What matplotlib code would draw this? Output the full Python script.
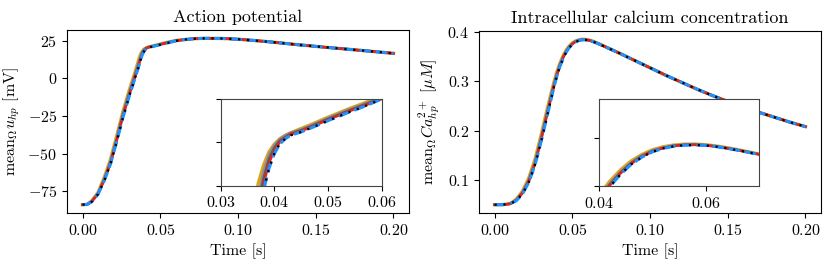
import numpy as np
from matplotlib import pyplot as plt

plt.rcParams['font.family'] = 'serif'
plt.rcParams['font.serif'] = ['cmr10', 'DejaVu Serif']
plt.rcParams['mathtext.fontset'] = 'cm'
plt.rcParams['axes.formatter.use_mathtext'] = True
plt.rcParams['font.size'] = 11.5

# --- action potential (mean over Omega) ---
t_ap_rise = [0.0, 0.003, 0.006, 0.010, 0.014, 0.018, 0.022, 0.026, 0.030, 0.034, 0.036, 0.037,
             0.038, 0.039, 0.040, 0.041, 0.042, 0.043, 0.045, 0.047, 0.050, 0.054, 0.057, 0.060]
t_ap_tail = [0.065, 0.070, 0.075, 0.080, 0.090, 0.100, 0.110, 0.120, 0.140, 0.160, 0.180, 0.200]
ap_tail = [25.8, 26.3, 26.6, 26.7, 26.6, 26.1, 25.3, 24.4, 22.3, 20.4, 18.6, 16.7]

ap_orange = [-84.0, -83.8, -81.3, -75.8, -65.8, -53.8, -38.2, -22.0, -8.0, 5.0, 12.0, 15.3,
             17.4, 18.9, 19.8, 20.4, 20.8, 21.1, 21.6, 22.1, 22.9, 23.9, 24.6, 25.3]
ap_gray = [-84.0, -83.8, -81.6, -76.3, -66.7, -55.0, -39.6, -23.4, -9.4, 3.6, 10.3, 13.8,
           16.7, 18.6, 19.7, 20.4, 20.8, 21.1, 21.5, 22.0, 22.8, 23.8, 24.5, 25.2]
ap_dgray = [-84.0, -83.8, -81.8, -76.6, -67.2, -55.8, -40.6, -24.4, -10.4, 2.6, 9.2, 12.7,
            15.9, 18.1, 19.4, 20.2, 20.6, 21.0, 21.4, 21.9, 22.7, 23.7, 24.4, 25.1]
ap_red = [-84.0, -83.8, -81.9, -76.8, -67.6, -56.4, -41.3, -25.2, -11.2, 1.8, 8.3, 11.8,
          15.2, 17.6, 19.1, 20.0, 20.5, 20.9, 21.3, 21.8, 22.6, 23.6, 24.3, 25.0]
ap_blue = [-84.0, -83.8, -82.0, -77.0, -68.0, -57.0, -42.0, -26.0, -12.0, 1.0, 7.5, 11.0,
           14.5, 17.0, 18.7, 19.8, 20.4, 20.8, 21.2, 21.7, 22.5, 23.5, 24.2, 25.0]

# --- intracellular calcium (mean over Omega) ---
t_ca_head = [0.0, 0.005, 0.010]
ca_head = [0.05, 0.05, 0.052]
t_ca_rise = [0.014, 0.018, 0.022, 0.026, 0.030, 0.034, 0.038, 0.040, 0.042, 0.044, 0.046, 0.048,
             0.050, 0.052, 0.054, 0.056, 0.058, 0.060, 0.062, 0.064, 0.066, 0.068, 0.070]
t_ca_tail = [0.08, 0.09, 0.10, 0.11, 0.12, 0.13, 0.14, 0.15, 0.16, 0.17, 0.18, 0.19, 0.20]
ca_tail = [0.357, 0.342, 0.327, 0.312, 0.298, 0.284, 0.271, 0.259, 0.248, 0.237, 0.227, 0.217, 0.208]

ca_orange = [0.061, 0.0775, 0.104, 0.1415, 0.1915, 0.2455, 0.2955, 0.3180, 0.3360, 0.3508, 0.3625, 0.3710,
             0.3772, 0.3811, 0.3834, 0.3845, 0.3846, 0.3838, 0.3821, 0.3799, 0.3773, 0.3745, 0.3716]
ca_gray = [0.060, 0.0755, 0.100, 0.1365, 0.186, 0.240, 0.2915, 0.3146, 0.3332, 0.3485, 0.3607, 0.3696,
           0.3761, 0.3802, 0.3827, 0.3839, 0.3841, 0.3833, 0.3817, 0.3795, 0.3769, 0.3742, 0.3713]
ca_dgray = [0.0595, 0.0745, 0.0985, 0.1345, 0.1835, 0.2375, 0.2895, 0.3128, 0.3318, 0.3474, 0.3598, 0.3689,
            0.3756, 0.3798, 0.3824, 0.3836, 0.3838, 0.3831, 0.3815, 0.3793, 0.3768, 0.3741, 0.3712]
ca_red = [0.059, 0.0735, 0.097, 0.1325, 0.181, 0.235, 0.2875, 0.311, 0.3305, 0.3463, 0.359, 0.3683,
          0.3751, 0.3794, 0.3821, 0.3834, 0.3836, 0.3829, 0.3813, 0.3791, 0.3766, 0.3739, 0.3711]
ca_blue = [0.058, 0.072, 0.095, 0.130, 0.178, 0.232, 0.285, 0.309, 0.329, 0.345, 0.358, 0.3675,
           0.3745, 0.379, 0.3818, 0.3832, 0.3835, 0.3828, 0.3812, 0.3790, 0.3765, 0.3738, 0.3710]

t_ap = np.array(t_ap_rise + t_ap_tail)
t_ca = np.array(t_ca_head + t_ca_rise + t_ca_tail)
ap_series = [ap_orange, ap_gray, ap_dgray, ap_red, ap_blue, ap_blue]
ca_series = [ca_orange, ca_gray, ca_dgray, ca_red, ca_blue, ca_blue]

styles = [
    dict(color='#daa520', lw=2.4, ls='-'),
    dict(color='#8f8f8f', lw=1.8, ls='-'),
    dict(color='#5c5c5c', lw=1.8, ls='-'),
    dict(color='#e8201c', lw=1.8, ls='-'),
    dict(color='#1e90ff', lw=2.2, ls='--'),
    dict(color='black', lw=1.6, ls=(0, (1, 3))),
]


def draw(ax, t, series, head, tail):
    for vals, st in zip(series, styles):
        ax.plot(t, head + vals + tail, **st)


fig = plt.figure(figsize=(8.31, 2.67), dpi=100)
ax1 = fig.add_axes([0.0806, 0.2022, 0.4116, 0.6854])
ax2 = fig.add_axes([0.5764, 0.2022, 0.4116, 0.6816])

draw(ax1, t_ap, ap_series, [], ap_tail)
ax1.set_title('Action potential', fontsize=13)
ax1.set_xlabel('Time [s]')
ax1.set_ylabel(r'$\mathrm{mean}_\Omega u_{hp}$ [mV]')
ax1.set_xticks([0.0, 0.05, 0.10, 0.15, 0.20])
ax1.set_yticks([-75, -50, -25, 0, 25])

draw(ax2, t_ca, ca_series, ca_head, ca_tail)
ax2.set_title('Intracellular calcium concentration', fontsize=13)
ax2.set_xlabel('Time [s]')
ax2.set_ylabel(r'$\mathrm{mean}_\Omega Ca^{2+}_{hp}$ $[\mu M]$')
ax2.set_xticks([0.0, 0.05, 0.10, 0.15, 0.20])
ax2.set_yticks([0.1, 0.2, 0.3, 0.4])

# insets
in1 = fig.add_axes([0.2656, 0.3045, 0.1937, 0.3247])
draw(in1, t_ap, ap_series, [], ap_tail)
in1.set_xlim(0.03, 0.06)
in1.set_ylim(15, 25)
in1.set_xticks([0.03, 0.04, 0.05, 0.06])
in1.set_yticks([15, 20, 25])
in1.set_yticklabels([])

in2 = fig.add_axes([0.7208, 0.3034, 0.1929, 0.3247])
draw(in2, t_ca, ca_series, ca_head, ca_tail)
in2.set_xlim(0.04, 0.07)
in2.set_ylim(0.33, 0.443)
in2.set_xticks([0.04, 0.06])
in2.set_yticks([0.33, 0.393])
in2.set_yticklabels([])

for ax in (in1, in2):
    for sp in ax.spines.values():
        sp.set_edgecolor('#444444')

fig.savefig('out.png', dpi=100)
